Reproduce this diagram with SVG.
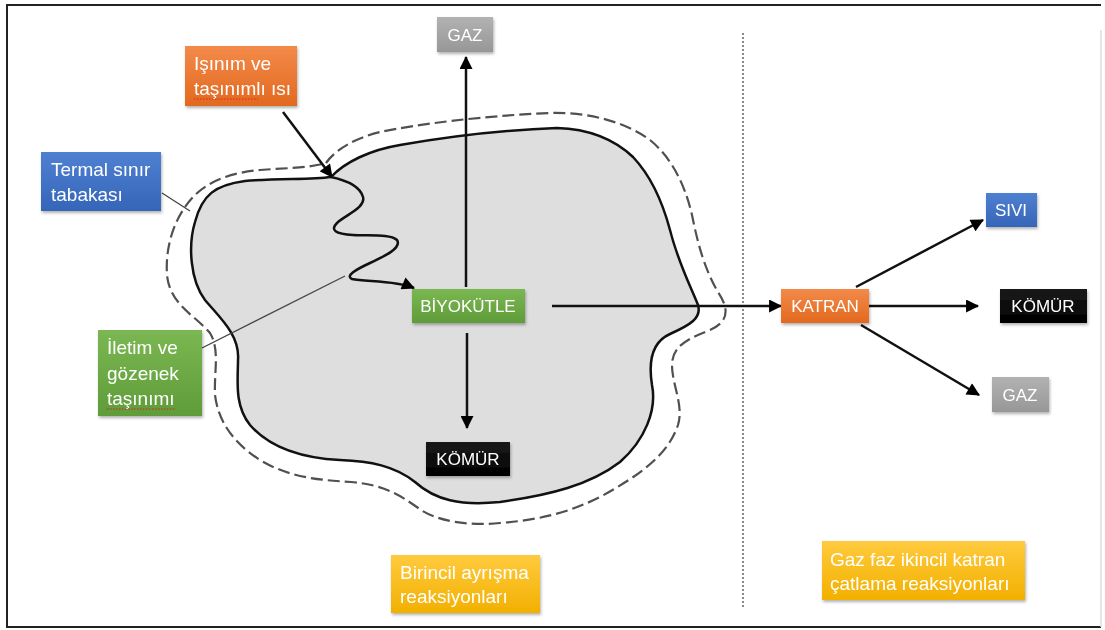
<svg xmlns="http://www.w3.org/2000/svg" width="1105" height="630" viewBox="0 0 1105 630">
<defs>
<style>
.t{font-family:"Liberation Sans",Arial,sans-serif;fill:#fff}
.s{font-size:17px}
.m{font-size:19px}
.ln{stroke:#111;stroke-width:2.5;fill:none}
.thin{stroke:#444;stroke-width:1.3;fill:none}
.sq{stroke:#d22;stroke-width:1;fill:none;stroke-dasharray:1.5 1.5}
</style>
<linearGradient id="gO" x1="0" y1="0" x2="0" y2="1"><stop offset="0" stop-color="#f38a4a"/><stop offset="1" stop-color="#e2691f"/></linearGradient>
<linearGradient id="gB" x1="0" y1="0" x2="0" y2="1"><stop offset="0" stop-color="#4f80d2"/><stop offset="1" stop-color="#3565b8"/></linearGradient>
<linearGradient id="gG" x1="0" y1="0" x2="0" y2="1"><stop offset="0" stop-color="#7bb752"/><stop offset="1" stop-color="#5f9c39"/></linearGradient>
<linearGradient id="gR" x1="0" y1="0" x2="0" y2="1"><stop offset="0" stop-color="#b2b2b2"/><stop offset="1" stop-color="#979797"/></linearGradient>
<linearGradient id="gY" x1="0" y1="0" x2="0" y2="1"><stop offset="0" stop-color="#ffca3e"/><stop offset="1" stop-color="#f2b000"/></linearGradient>
<linearGradient id="gK" x1="0" y1="0" x2="0" y2="1"><stop offset="0" stop-color="#1a1a1a"/><stop offset="1" stop-color="#000"/></linearGradient>
<filter id="sh" x="-20%" y="-20%" width="140%" height="150%"><feDropShadow dx="1" dy="2" stdDeviation="1.5" flood-color="#000" flood-opacity="0.3"/></filter>
<marker id="ah" viewBox="0 0 12 12" refX="11" refY="6" markerWidth="14" markerHeight="13" markerUnits="userSpaceOnUse" orient="auto"><path d="M0,0 L12,6 L0,12 Z" fill="#000"/></marker>
</defs>
<rect width="1105" height="630" fill="#fff"/>
<g id="frame">
<path d="M1101,5 H7 V627 H1101" fill="none" stroke="#222" stroke-width="2"/>
<line x1="1101" y1="30" x2="1101" y2="627" stroke="#ddd" stroke-width="1.5"/>
</g>
<g id="particle">
<path d="M326,163 C335,150 355,138 380,132 C420,124 480,116 550,113 C590,112 625,122 650,140 C672,158 685,185 692,215 C698,245 705,270 718,292 C730,310 728,322 710,330 C690,338 672,345 672,365 C672,385 684,405 678,425 C668,455 640,475 600,497 C570,512 540,520 500,523 C470,526 440,522 421,510 C400,495 385,485 351,482 C320,480 290,478 260,460 C232,442 218,420 215,395 C214,370 220,350 210,333 C195,315 170,305 167,275 C165,245 175,215 195,195 C210,180 235,172 260,170 C285,168 310,168 326,163" fill="none" stroke="#505050" stroke-width="2.2" stroke-dasharray="12 5"/>
<path d="M331,177 C345,162 370,150 400,145 C440,138 500,130 557,128 C590,129 615,140 633,157 C650,175 662,200 670,230 C678,262 690,285 698,305 C702,318 690,325 670,334 C652,342 648,360 652,385 C657,410 645,440 620,462 C590,485 550,495 500,502 C460,506 435,500 415,482 C395,466 370,461 340,460 C300,458 270,448 250,425 C234,405 238,380 238,360 C240,335 220,318 205,300 C190,280 188,245 195,222 C202,195 215,185 245,181 C280,178 310,180 331,177 Z" fill="#dedede" stroke="#111" stroke-width="2.5"/>
<line x1="743" y1="33" x2="743" y2="607" stroke="#888" stroke-width="2" stroke-dasharray="2 2"/>
</g>
<g id="connectors">
<line class="ln" x1="466" y1="287" x2="466" y2="57" marker-end="url(#ah)"/>
<line class="ln" x1="467" y1="333" x2="467" y2="428" marker-end="url(#ah)"/>
<line class="ln" x1="552" y1="306" x2="781" y2="306" marker-end="url(#ah)"/>
<line class="ln" x1="869" y1="306" x2="978" y2="306" marker-end="url(#ah)"/>
<line class="ln" x1="856" y1="287" x2="983" y2="220" marker-end="url(#ah)"/>
<line class="ln" x1="861" y1="325" x2="979" y2="395" marker-end="url(#ah)"/>
<line class="ln" x1="283" y1="112" x2="332" y2="177" marker-end="url(#ah)"/>
<path class="ln" d="M331,177 C345,180 360,186 363,197 C366,208 345,215 337,223 C330,230 335,234 353,235 C370,236 390,234 397,240 C402,248 385,256 370,263 C355,270 345,276 352,279 C365,282 395,280 414,288" marker-end="url(#ah)"/>
<line class="thin" x1="162" y1="193" x2="190" y2="211"/>
<line class="thin" x1="202" y1="348" x2="345" y2="276" stroke="#666" stroke-width="1"/>
</g>
<g id="n-gaz-top" filter="url(#sh)"><rect x="437" y="17" width="56" height="35" fill="url(#gR)"/><text class="t s" x="465" y="41" text-anchor="middle">GAZ</text></g>
<g id="n-isinim" filter="url(#sh)"><rect x="185" y="46" width="112" height="60" fill="url(#gO)"/><text class="t m" x="194" y="70">Işınım ve</text><text class="t m" x="194" y="95">taşınımlı ısı</text><path class="sq" d="M194,99 H258"/></g>
<g id="n-termal" filter="url(#sh)"><rect x="41" y="152" width="120" height="59" fill="url(#gB)"/><text class="t m" x="51" y="176">Termal sınır</text><text class="t m" x="51" y="201">tabakası</text></g>
<g id="n-iletim" filter="url(#sh)"><rect x="98" y="330" width="104" height="86" fill="url(#gG)"/><text class="t m" x="107" y="354">İletim ve</text><text class="t m" x="107" y="380">gözenek</text><text class="t m" x="107" y="405">taşınımı</text><path class="sq" d="M107,409 H176"/></g>
<g id="n-biyokutle" filter="url(#sh)"><rect x="412" y="289" width="113" height="34" fill="url(#gG)"/><text class="t s" x="468" y="312" text-anchor="middle">BİYOKÜTLE</text></g>
<g id="n-komur-center" filter="url(#sh)"><rect x="426" y="442" width="84" height="34" fill="url(#gK)"/><text class="t s" x="468" y="465" text-anchor="middle">KÖMÜR</text></g>
<g id="n-birincil" filter="url(#sh)"><rect x="391" y="555" width="149" height="58" fill="url(#gY)"/><text class="t m" x="400" y="579">Birincil ayrışma</text><text class="t m" x="400" y="603">reaksiyonları</text></g>
<g id="n-katran" filter="url(#sh)"><rect x="781" y="289" width="88" height="34" fill="url(#gO)"/><text class="t s" x="825" y="312" text-anchor="middle">KATRAN</text></g>
<g id="n-sivi" filter="url(#sh)"><rect x="986" y="193" width="51" height="34" fill="url(#gB)"/><text class="t s" x="1011" y="216" text-anchor="middle">SIVI</text></g>
<g id="n-komur-right" filter="url(#sh)"><rect x="1000" y="289" width="87" height="34" fill="url(#gK)"/><text class="t s" x="1043" y="312" text-anchor="middle">KÖMÜR</text></g>
<g id="n-gaz-right" filter="url(#sh)"><rect x="992" y="377" width="57" height="35" fill="url(#gR)"/><text class="t s" x="1020" y="401" text-anchor="middle">GAZ</text></g>
<g id="n-gazfaz" filter="url(#sh)"><rect x="822" y="541" width="203" height="59" fill="url(#gY)"/><text class="t m" x="830" y="566">Gaz faz ikincil katran</text><text class="t m" x="830" y="590">çatlama reaksiyonları</text></g>
</svg>
